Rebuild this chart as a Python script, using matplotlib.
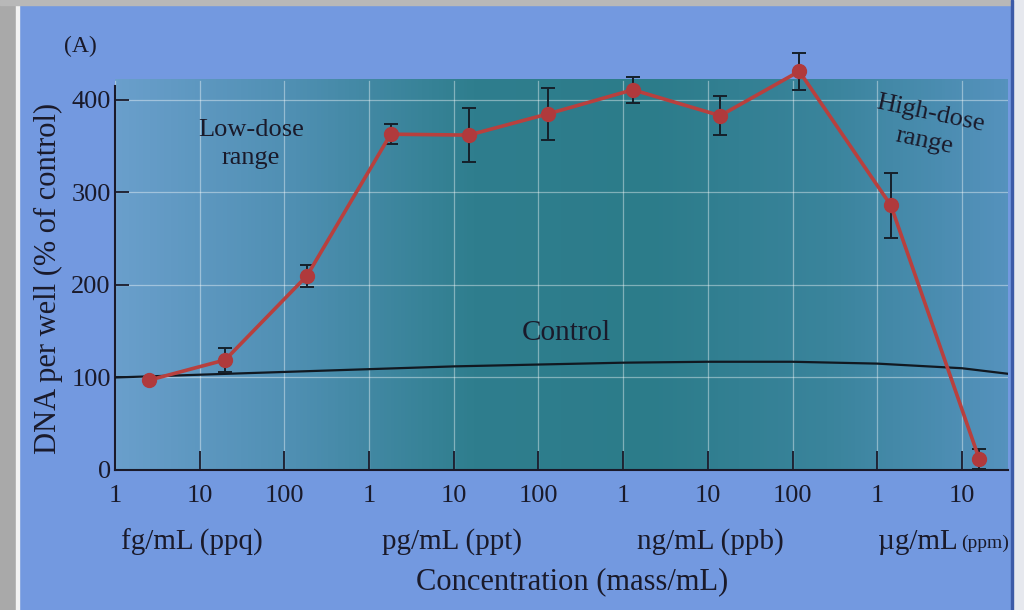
import numpy as np
import matplotlib.pyplot as plt
from matplotlib.colors import LinearSegmentedColormap
from matplotlib.ticker import FixedLocator, NullLocator
from matplotlib.patches import Rectangle

plt.rcParams['font.family'] = ['Liberation Serif', 'DejaVu Serif']

# Concentrations in g/mL (log axis)
conc = [2.5e-15, 2.0e-14, 1.85e-13, 1.8e-12, 1.5e-11, 1.3e-10,
        1.3e-9, 1.4e-8, 1.2e-7, 1.45e-6, 1.6e-5]
dna = [97, 119, 210, 363, 362, 385, 411, 383, 431, 286, 12]
dna_err = [0, 13, 12, 11, 29, 28, 14, 21, 20, 35, 11]

# control line as seen in the picture
control_x = [1e-15, 1e-14, 1e-13, 1e-12, 1e-11, 1e-10, 1e-9, 1e-8,
             1e-7, 1e-6, 1e-5, 3.5e-5]
control_y = [100, 103, 106, 109, 112, 114, 116, 117, 117, 115, 110, 104]

tick_pos = [1e-15, 1e-14, 1e-13, 1e-12, 1e-11, 1e-10, 1e-9, 1e-8,
            1e-7, 1e-6, 1e-5]
tick_lab = ['1', '10', '100', '1', '10', '100', '1', '10', '100', '1', '10']
unit_labels = ['fg/mL (ppq)', 'pg/mL (ppt)', 'ng/mL (ppb)']
unit_x = [192, 452, 710]

ink = '#1a1a2a'
page = '#7399e0'
fig = plt.figure(figsize=(10.24, 6.10), dpi=100, facecolor=page)

# photo border strips
fig.patches.append(Rectangle((0, 0), 16 / 1024, 1, transform=fig.transFigure,
                             color='#a9a9a9', zorder=0))
fig.patches.append(Rectangle((16 / 1024, 0), 3 / 1024, 1, transform=fig.transFigure,
                             color='#f2f2f2', zorder=0))
fig.patches.append(Rectangle((0, 1 - 5 / 610), 1, 5 / 610, transform=fig.transFigure,
                             color='#b8b8b8', zorder=0))

ax = fig.add_axes([115 / 1024, 140 / 610, 893 / 1024, 420 / 610])
ax.set_xscale('log')
ax.set_xlim(1e-15, 3.5e-5)
ax.set_ylim(0, 454)

# teal plot background with soft horizontal gradient
cmap = LinearSegmentedColormap.from_list(
    'teal', ['#6a9fcc', '#4f8fb2', '#2f7e8e', '#2c7c8a', '#3a849c', '#5592bd'])
grad = np.linspace(0, 1, 256).reshape(1, -1)
ax.imshow(grad, extent=[0, 1, 0, 0.93], transform=ax.transAxes, cmap=cmap,
          aspect='auto', zorder=0)
ax.set_facecolor(page)

for t in tick_pos:
    ax.plot([t, t], [0, 420], color='white', lw=0.9, alpha=0.4, zorder=1)
for v in [100, 200, 300, 400]:
    ax.axhline(v, color='white', lw=0.9, alpha=0.4, zorder=1)

ax.plot(control_x, control_y, color='#111820', lw=1.6, zorder=3)
ax.errorbar(conc, dna, yerr=dna_err, fmt='none', ecolor='#15202a',
            elinewidth=1.4, capsize=5, capthick=1.4, zorder=4)
ax.plot(conc, dna, color='#b8403e', lw=2.6, marker='o', markersize=10,
        markerfacecolor='#b03a3c', markeredgecolor='#b03a3c', zorder=5)

ax.xaxis.set_major_locator(FixedLocator(tick_pos))
ax.xaxis.set_minor_locator(NullLocator())
ax.set_xticklabels(tick_lab)
ax.set_yticks([0, 100, 200, 300, 400])
ax.tick_params(axis='x', direction='in', length=14, width=1.3, pad=11,
               labelsize=19, colors=ink)
ax.tick_params(axis='y', direction='in', length=10, width=1.3, pad=3,
               labelsize=19, colors=ink)
for s in ['top', 'right']:
    ax.spines[s].set_visible(False)
ax.spines['left'].set_bounds(0, 415)
for s in ['left', 'bottom']:
    ax.spines[s].set_linewidth(1.5)
    ax.spines[s].set_color(ink)

ax.text(0.152, 0.776, 'Low-dose\nrange', transform=ax.transAxes, ha='center',
        va='center', fontsize=19, color=ink, linespacing=1.4)
ax.text(0.91, 0.815, 'High-dose\nrange', transform=ax.transAxes, ha='center',
        va='center', fontsize=19, color=ink, linespacing=1.35, rotation=-12)
ax.text(0.505, 0.325, 'Control', transform=ax.transAxes, ha='center',
        va='center', fontsize=21, color=ink)

fig.text(80 / 1024, 1 - 46 / 610, '(A)', fontsize=17, color=ink,
         ha='center', va='center')
fig.text(48 / 1024, 1 - 278 / 610, 'DNA per well (% of control)', rotation=90,
         fontsize=22, color=ink, ha='center', va='center')
for lab, x in zip(unit_labels, unit_x):
    fig.text(x / 1024, 1 - 542 / 610, lab, fontsize=21, color=ink,
             ha='center', va='center')
# last unit label: smaller "(ppm)" squeezed against the page edge, as in the photo
fig.text(958 / 1024, 1 - 542 / 610, 'µg/mL', fontsize=21, color=ink,
         ha='right', va='center')
fig.text(961 / 1024, 1 - 543 / 610, '(ppm)', fontsize=14, color=ink,
         ha='left', va='center')
fig.text(572 / 1024, 1 - 582 / 610, 'Concentration (mass/mL)', fontsize=22,
         color=ink, ha='center', va='center')

# right edge of the page in the photo
fig.patches.append(Rectangle((1013 / 1024, 0), 11 / 1024, 1, transform=fig.transFigure,
                             color='#e6e8ee', zorder=10))
fig.patches.append(Rectangle((1011 / 1024, 0), 2 / 1024, 1, transform=fig.transFigure,
                             color='#3b5aa8', zorder=10))

fig.savefig('out.png', dpi=100, facecolor=page)
